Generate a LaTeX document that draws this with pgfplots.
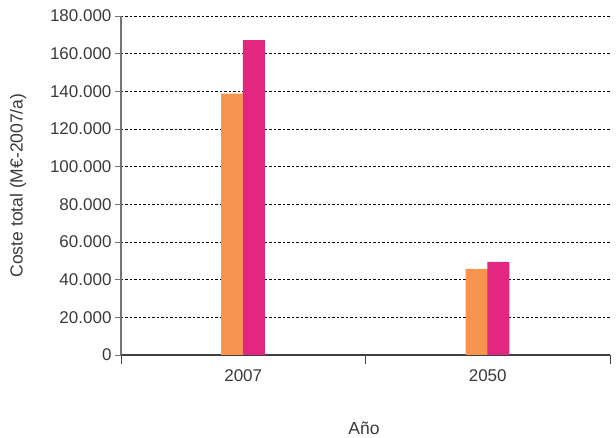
\documentclass[border=0pt]{standalone}
\usepackage{pgfplots}
\pgfplotsset{compat=1.18}
\usepackage{fontspec}
\setmainfont{Liberation Sans}
\definecolor{txt}{HTML}{3A3A3A}
\definecolor{orangebar}{HTML}{F79550}
\definecolor{magbar}{HTML}{E3267F}
\begin{document}
\begin{tikzpicture}
\begin{axis}[
  name=ax,
  scale only axis,
  width=489pt, height=339pt,
  xmin=-0.5, xmax=1.5,
  ymin=0, ymax=180000,
  axis x line*=bottom, axis y line*=left,
  x axis line style={draw=black!75, line width=1.2pt, -},
  y axis line style={draw=black!55, line width=1.2pt, -},
  xtick={0,1}, xticklabels={2007,2050},
  minor xtick={-0.5,0.5,1.5},
  major x tick style={draw=none},
  minor x tick style={draw=black!75, line width=0.8pt},
  minor tick length=9pt,
  ytick={0,20000,...,180000},
  major y tick style={draw=black!55, line width=0.8pt},
  major tick length=6pt,
  tick align=outside,
  scaled y ticks=false,
  /pgf/number format/.cd, 1000 sep={.}, fixed, assume math mode=true,
  /pgfplots/.cd,
  ymajorgrids,
  grid style={black, line width=0.8pt, dash pattern=on 2.5pt off 2pt},
  tick label style={font=\fontsize{17}{20}\selectfont, text=txt},
  xticklabel style={yshift=-5pt},
  xlabel={Año}, ylabel={Coste total (M€-2007/a)},
  label style={font=\fontsize{17.5}{20}\selectfont, text=txt},
  xlabel style={at={(axis description cs:0.497,0)}, anchor=center, yshift=-73pt},
  ylabel style={at={(axis description cs:0,0.5)}, anchor=center, yshift=103pt},
  ybar, bar width=0.09,
]
\addplot[fill=orangebar, draw=none, bar shift=-0.045] coordinates {(0,138800) (1,45700)};
\addplot[fill=magbar, draw=none, bar shift=0.043] coordinates {(0,167200) (1,49400)};
\end{axis}
\path (ax.south west) +(-121pt,-83pt) (ax.north east) +(6pt,16pt);
\end{tikzpicture}
\end{document}
